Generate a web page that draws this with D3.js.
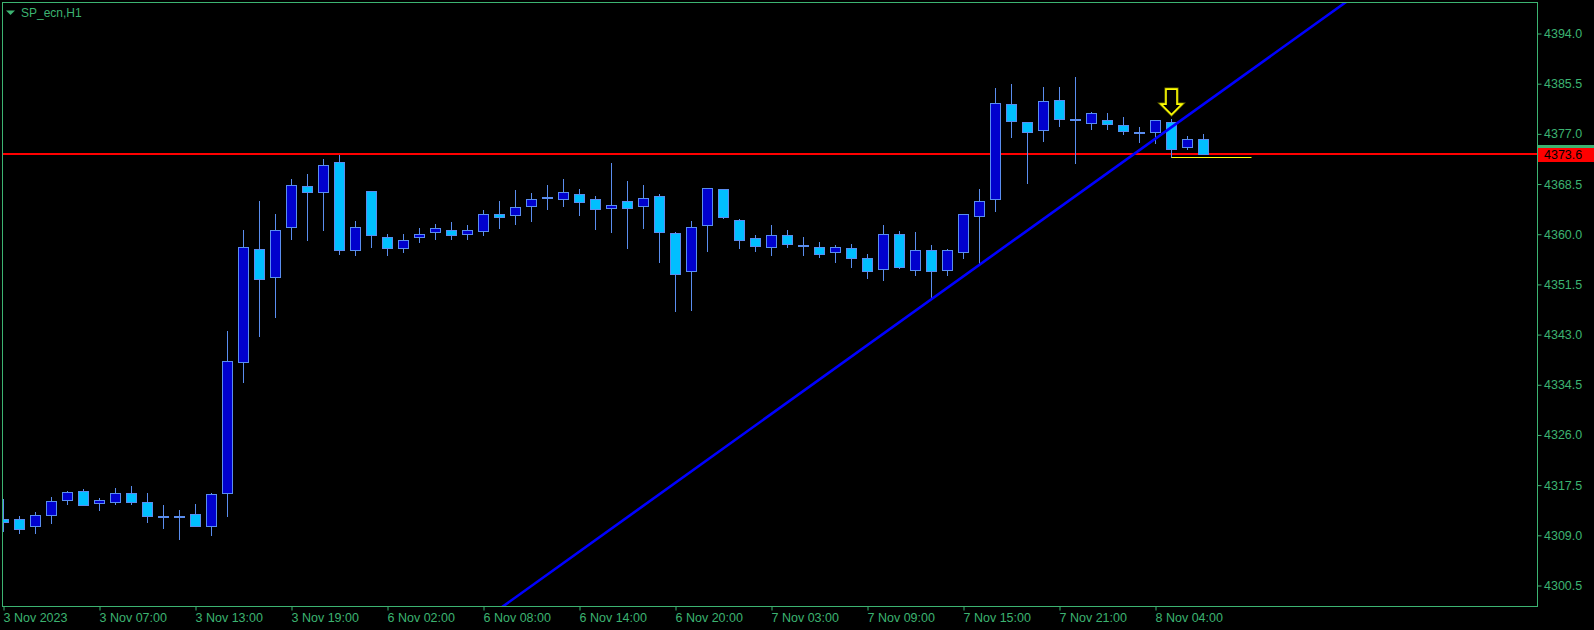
<!DOCTYPE html>
<html><head><meta charset="utf-8">
<script src="https://cdn.jsdelivr.net/npm/d3@7"></script>
<style>
html,body{margin:0;padding:0;background:#000;overflow:hidden}
svg{display:block}
text{font-family:"Liberation Sans",Arial,sans-serif}
</style></head><body>
<svg id="c" width="1594" height="630"></svg>
<script>
// ---- data ----
const categories = [
"3 Nov 01:00","3 Nov 02:00","3 Nov 03:00","3 Nov 04:00","3 Nov 05:00","3 Nov 06:00","3 Nov 07:00","3 Nov 08:00","3 Nov 09:00","3 Nov 10:00","3 Nov 11:00","3 Nov 12:00","3 Nov 13:00","3 Nov 14:00","3 Nov 15:00","3 Nov 16:00","3 Nov 17:00","3 Nov 18:00","3 Nov 19:00","3 Nov 20:00","3 Nov 21:00","3 Nov 22:00","3 Nov 23:00",
"6 Nov 01:00","6 Nov 02:00","6 Nov 03:00","6 Nov 04:00","6 Nov 05:00","6 Nov 06:00","6 Nov 07:00","6 Nov 08:00","6 Nov 09:00","6 Nov 10:00","6 Nov 11:00","6 Nov 12:00","6 Nov 13:00","6 Nov 14:00","6 Nov 15:00","6 Nov 16:00","6 Nov 17:00","6 Nov 18:00","6 Nov 19:00","6 Nov 20:00","6 Nov 21:00","6 Nov 22:00","6 Nov 23:00",
"7 Nov 01:00","7 Nov 02:00","7 Nov 03:00","7 Nov 04:00","7 Nov 05:00","7 Nov 06:00","7 Nov 07:00","7 Nov 08:00","7 Nov 09:00","7 Nov 10:00","7 Nov 11:00","7 Nov 12:00","7 Nov 13:00","7 Nov 14:00","7 Nov 15:00","7 Nov 16:00","7 Nov 17:00","7 Nov 18:00","7 Nov 19:00","7 Nov 20:00","7 Nov 21:00","7 Nov 22:00","7 Nov 23:00",
"8 Nov 01:00","8 Nov 02:00","8 Nov 03:00","8 Nov 04:00","8 Nov 05:00","8 Nov 06:00","8 Nov 07:00"
];
const open = [
4311.8,4311.8,4310.5,4312.4,4314.9,4316.5,4314.4,4314.7,4316.1,4314.6,4312.3,4312.3,4312.6,4310.5,4316.1,4338.3,4357.5,4352.7,4361.2,4368.1,4367.1,4372.2,4357.3,
4367.3,4359.5,4357.6,4359.5,4360.3,4360.7,4360.0,4360.5,4363.4,4363.2,4364.8,4366.2,4366.0,4366.8,4365.9,4364.5,4365.6,4364.7,4366.4,4360.2,4353.7,4361.6,4367.6,
4362.4,4359.3,4357.8,4359.9,4358.1,4357.8,4357.0,4357.6,4355.9,4354.1,4360.0,4354.0,4357.4,4354.0,4357.0,4363.1,4365.9,4382.0,4379.0,4377.6,4382.7,4379.5,4378.9,
4379.4,4378.5,4377.4,4377.4,4379.0,4374.7,4376.2
];
const high = [
4315.2,4312.3,4313.0,4315.5,4316.5,4316.9,4315.3,4317.0,4317.4,4316.2,4314.1,4313.3,4314.3,4316.1,4343.6,4360.7,4365.6,4363.4,4369.4,4370.2,4372.7,4373.5,4362.2,
4367.4,4360.0,4360.0,4361.1,4361.7,4362.1,4361.6,4364.1,4365.6,4367.5,4367.0,4368.3,4369.4,4367.7,4366.4,4372.1,4369.0,4368.3,4366.8,4360.3,4362.2,4367.9,4367.7,
4362.6,4359.8,4361.6,4360.7,4359.5,4358.7,4358.2,4358.3,4356.7,4361.6,4360.5,4360.4,4358.1,4357.5,4363.4,4367.6,4384.8,4385.4,4379.0,4384.9,4384.9,4386.6,4380.7,
4380.5,4379.8,4378.2,4379.4,4379.5,4376.6,4377.0
];
const low = [
4309.8,4309.4,4309.4,4311.1,4314.3,4314.2,4313.3,4314.3,4314.3,4311.3,4310.3,4308.4,4310.6,4309.1,4312.3,4334.9,4342.8,4346.0,4359.2,4359.1,4360.8,4356.7,4356.5,
4357.9,4356.5,4357.0,4358.6,4359.2,4359.2,4359.2,4359.8,4361.1,4361.8,4362.3,4364.2,4364.7,4363.3,4360.9,4360.4,4357.6,4361.1,4355.3,4347.0,4347.2,4357.2,4362.8,
4357.7,4357.2,4356.4,4357.9,4356.5,4356.2,4355.3,4354.5,4352.6,4352.3,4354.2,4353.1,4349.0,4353.1,4355.9,4355.0,4364.0,4376.5,4368.7,4375.8,4378.4,4372.1,4377.9,
4377.9,4377.0,4375.7,4375.5,4373.0,4374.5,4373.6
];
const close = [
4311.3,4310.1,4312.4,4314.8,4316.3,4314.2,4314.9,4316.2,4314.7,4312.2,4312.3,4312.3,4310.6,4316.0,4338.5,4357.8,4352.4,4360.8,4368.3,4367.2,4371.8,4357.4,4361.3,
4359.8,4357.6,4359.0,4360.0,4361.0,4359.8,4360.7,4363.5,4362.9,4364.6,4365.9,4366.3,4367.1,4365.5,4364.3,4364.9,4364.5,4366.1,4360.3,4353.3,4361.3,4367.8,4362.9,
4359.0,4358.0,4359.8,4358.4,4358.1,4356.7,4357.8,4356.0,4353.7,4360.0,4354.5,4357.3,4353.8,4357.4,4363.4,4365.6,4382.2,4379.1,4377.4,4382.5,4379.5,4379.4,4380.5,
4378.6,4377.5,4377.4,4379.3,4374.5,4376.1,4373.6
];
const yTicks = [4300.5,4309.0,4317.5,4326.0,4334.5,4343.0,4351.5,4360.0,4368.5,4377.0,4385.5,4394.0];
const xTickAt = ["3 Nov 01:00","3 Nov 07:00","3 Nov 13:00","3 Nov 19:00","6 Nov 02:00","6 Nov 08:00","6 Nov 14:00","6 Nov 20:00","7 Nov 03:00","7 Nov 09:00","7 Nov 15:00","7 Nov 21:00","8 Nov 04:00"];
const xTickLabels = ["3 Nov 2023","3 Nov 07:00","3 Nov 13:00","3 Nov 19:00","6 Nov 02:00","6 Nov 08:00","6 Nov 14:00","6 Nov 20:00","7 Nov 03:00","7 Nov 09:00","7 Nov 15:00","7 Nov 21:00","8 Nov 04:00"];
const bidPrice = 4373.6;
const trendIdx = [58, 72];
const trendPrice = [4349.0, 4376.2];
const signalIdx = 73;
const signalLevel = 4373.0;
const signalEndIdx = 78;
const title = "SP_ecn,H1";

// ---- style ----
const GREEN = "#3cb371", BULL = "#0000cd", BEAR = "#00bfff", EDGE = "#5a8dee";
const L = 2.5, T = 2.5, R = 1537.5, B = 606.5;

const svg = d3.select("#c");
svg.append("rect").attr("width",1594).attr("height",630).attr("fill","#000");

const n = categories.length;
const x = d3.scaleLinear().domain([0, n-1]).range([3.5, 3.5 + 16*(n-1)]);
const xc = d3.scalePoint().domain(categories).range([3.5, 3.5 + 16*(n-1)]);
const y = d3.scaleLinear().domain([4300.5, 4394.0]).range([585.5, 33.5]);

svg.append("defs").append("clipPath").attr("id","clip")
  .append("rect").attr("x",3).attr("y",3).attr("width",R-0.5-3).attr("height",B-0.5-3);

const plot = svg.append("g").attr("clip-path","url(#clip)");

// bid line
const yb = y(bidPrice);
plot.append("line").attr("x1",L).attr("x2",R).attr("y1",yb).attr("y2",yb)
  .attr("stroke","#ff0000").attr("stroke-width",2);

const idx = d3.range(n);
// wicks
plot.selectAll("line.w").data(idx).join("line").attr("class","w")
  .attr("x1",i=>x(i)).attr("x2",i=>x(i))
  .attr("y1",i=>Math.round(y(high[i]))).attr("y2",i=>Math.round(y(low[i]))+1)
  .attr("stroke",EDGE).attr("stroke-width",1);
// bodies
plot.selectAll("rect.b").data(idx).join("rect").attr("class","b")
  .attr("x",i=>x(i)-5).attr("width",10)
  .attr("y",i=>Math.round(y(Math.max(open[i],close[i])))+0.5)
  .attr("height",i=>Math.max(1, Math.round(y(Math.min(open[i],close[i]))) - Math.round(y(Math.max(open[i],close[i])))))
  .attr("fill",i=>close[i]>open[i]?BULL:(close[i]<open[i]?BEAR:EDGE))
  .attr("stroke",EDGE).attr("stroke-width",1);

// trend line
const slope = (trendPrice[1]-trendPrice[0])/(trendIdx[1]-trendIdx[0]);
const tA = -10, tB = 110;
plot.append("line")
  .attr("x1",x(tA)).attr("y1",y(trendPrice[0]+slope*(tA-trendIdx[0])))
  .attr("x2",x(tB)).attr("y2",y(trendPrice[0]+slope*(tB-trendIdx[0])))
  .attr("stroke","#0000ff").attr("stroke-width",2.6);

// signal level line
const ys = Math.round(y(signalLevel))+0.5;
plot.append("line").attr("x1",x(signalIdx)).attr("x2",x(signalEndIdx)).attr("y1",ys).attr("y2",ys)
  .attr("stroke","#ffff00").attr("stroke-width",1);

// signal arrow
const cx = x(signalIdx), tip = y(high[signalIdx]) - 4.5;
const arrowPts = [[cx-5.5,tip-25.5],[cx+5.5,tip-25.5],[cx+5.5,tip-10.5],[cx+10.5,tip-10.5],[cx,tip],[cx-10.5,tip-10.5],[cx-5.5,tip-10.5]];
svg.append("polygon").attr("points",arrowPts.map(p=>p.join(",")).join(" "))
  .attr("fill","none").attr("stroke","#6b6b00").attr("stroke-width",3.2).attr("stroke-linejoin","miter");
svg.append("polygon").attr("points",arrowPts.map(p=>p.join(",")).join(" "))
  .attr("fill","#000").attr("stroke","#ffff00").attr("stroke-width",1.6).attr("stroke-linejoin","miter");

// frame
svg.append("rect").attr("x",L).attr("y",T).attr("width",R-L).attr("height",B-T)
  .attr("fill","none").attr("stroke",GREEN).attr("stroke-width",1);

// y axis
const ya = svg.append("g").attr("transform",`translate(${R-0.5},0)`)
  .call(d3.axisRight(y).tickValues(yTicks).tickFormat(d3.format(".1f")).tickSize(4).tickPadding(3));
ya.select(".domain").remove();
ya.selectAll(".tick line").attr("stroke",GREEN).attr("transform","translate(0.5,0)");
ya.selectAll(".tick text").attr("fill",GREEN).attr("font-size","12.5px")
  .attr("font-family","'Liberation Sans',Arial,sans-serif");

// x axis
const xa = svg.append("g").attr("transform",`translate(0,${B-0.5})`)
  .call(d3.axisBottom(xc).tickValues(xTickAt).tickFormat((d,i)=>xTickLabels[i]).tickSize(4).tickPadding(3));
xa.select(".domain").remove();
xa.selectAll(".tick line").attr("stroke",GREEN).attr("transform","translate(0,0.5)");
xa.selectAll(".tick text").attr("fill",GREEN).attr("font-size","12.5px").attr("text-anchor","start")
  .attr("x",-0.5).attr("font-family","'Liberation Sans',Arial,sans-serif");

// price label
svg.append("rect").attr("x",1538).attr("y",Math.round(yb)-9).attr("width",56).attr("height",4).attr("fill",GREEN);
svg.append("rect").attr("x",1538).attr("y",Math.round(yb)-6).attr("width",56).attr("height",14).attr("fill","#ff0000");
svg.append("text").attr("x",1544).attr("y",yb+1).attr("dy","0.35em").attr("fill","#000")
  .attr("font-size","12.5px").text(bidPrice.toFixed(1));

// title
svg.append("polygon").attr("points","6,10.5 15,10.5 10.5,15").attr("fill",GREEN);
svg.append("text").attr("x",21).attr("y",17).attr("fill",GREEN).attr("font-size","12px").text(title);
</script>
</body></html>
